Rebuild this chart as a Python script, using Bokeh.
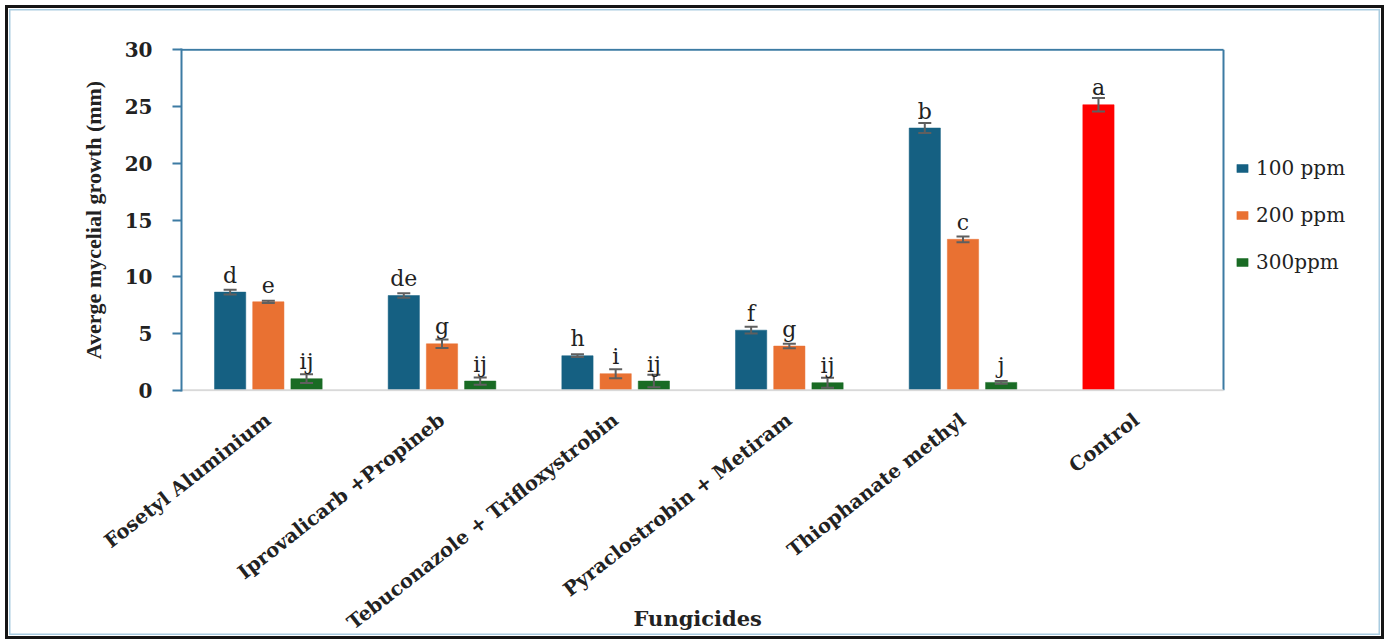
import math
from bokeh.plotting import figure
from bokeh.models import (ColumnDataSource, Range1d, Legend, LegendItem, FixedTicker)
from bokeh.transform import dodge
from bokeh.core.properties import value
from bokeh.embed import file_html
from bokeh.resources import INLINE

# ---------------- data ----------------
categories = ["Fosetyl Aluminium", "Iprovalicarb +Propineb", "Tebuconazole + Trifloxystrobin",
              "Pyraclostrobin + Metiram", "Thiophanate methyl", "Control"]

ppm100 = [8.65, 8.35, 3.05, 5.3, 23.1]
ppm100_err = [0.2, 0.2, 0.12, 0.3, 0.45]
ppm100_letters = ["d", "de", "h", "f", "b"]

ppm200 = [7.8, 4.1, 1.47, 3.9, 13.3]
ppm200_err = [0.1, 0.37, 0.4, 0.2, 0.25]
ppm200_letters = ["e", "g", "i", "g", "c"]

ppm300 = [1.03, 0.82, 0.82, 0.68, 0.7]
ppm300_err = [0.38, 0.32, 0.55, 0.44, 0.12]
ppm300_letters = ["ij", "ij", "ij", "ij", "j"]

control = [25.15]
control_err = [0.6]
control_letters = ["a"]

series_names = ["100 ppm", "200 ppm", "300ppm"]
yticks = [0, 5, 10, 15, 20, 25, 30]
x_title = "Fungicides"

# ---------------- style ----------------
C100, C200, C300, CCTRL = "#156082", "#E97132", "#196B24", "#FF0000"
AXBLUE = "#3C7BA3"
ERR = "#5F5F5F"
TXT = "#222222"
SERIF = "DejaVu Serif"

W_PX, H_PX = 1389, 644
LEFT, TOP, BOTTOM = 181, 48, 253
CAT_PX = (1223 - LEFT) / len(categories)          # pixel width of one category slot
ncat = len(categories)
x_end = (W_PX - LEFT) / CAT_PX                     # frame runs to the right edge (legend lives inside)
ymin, ymax = yticks[0], yticks[-1]

p = figure(width=W_PX, height=H_PX, x_range=Range1d(0, x_end), y_range=Range1d(ymin - 0.1, ymax + 0.1),
           output_backend="svg", toolbar_location=None,
           min_border_left=LEFT, min_border_right=0, min_border_top=TOP, min_border_bottom=BOTTOM)
p.background_fill_alpha = 0
p.border_fill_alpha = 0
p.styles = {
    "background-color": "white",
    "box-shadow": ("inset 0 0 0 5px white, inset 0 0 0 8px #151515, "
                   "inset 0 0 0 9px white, inset 0 0 0 10.5px #A9CCE0"),
}
p.xgrid.visible = False
p.ygrid.visible = False
p.outline_line_color = None

OFF, W = 0.22, 0.18
centers = [i + 0.5 for i in range(ncat)]

def make_src(xc, vals, errs, labs):
    return ColumnDataSource(dict(xc=xc, v=vals,
                                 lo=[a - b for a, b in zip(vals, errs)],
                                 hi=[a + b for a, b in zip(vals, errs)],
                                 lab=labs))

groups = [
    (make_src(centers[:5], ppm100, ppm100_err, ppm100_letters), -OFF, C100),
    (make_src(centers[:5], ppm200, ppm200_err, ppm200_letters), 0.0, C200),
    (make_src(centers[:5], ppm300, ppm300_err, ppm300_letters), OFF, C300),
    (make_src(centers[5:], control, control_err, control_letters), -OFF, CCTRL),
]

# plot-box lines (top & right in blue, baseline in light grey)
p.segment(x0=[0], y0=[ymax], x1=[ncat], y1=[ymax], line_color=AXBLUE, line_width=2)
p.segment(x0=[ncat], y0=[ymin], x1=[ncat], y1=[ymax], line_color=AXBLUE, line_width=2)

renderers = []
for src, off, col in groups:
    xx = dodge("xc", off)
    r = p.vbar(x=xx, top="v", bottom=ymin, width=W, source=src, fill_color=col, line_color=col, line_width=0.5)
    renderers.append(r)

p.segment(x0=[0], y0=[ymin], x1=[ncat], y1=[ymin], line_color="#D9D9D9", line_width=2)

for src, off, col in groups:
    xx = dodge("xc", off)
    p.segment(x0=xx, x1=xx, y0="lo", y1="hi", source=src, line_color=ERR, line_width=2)
    p.scatter(x=xx, y="hi", marker="dash", size=13, source=src, line_color=ERR, line_width=2)
    p.scatter(x=xx, y="lo", marker="dash", size=13, source=src, line_color=ERR, line_width=2)
    p.text(x=xx, y="v", text="lab", source=src, text_align="center", text_baseline="alphabetic",
           y_offset=-17, text_font=value(SERIF), text_font_size="22px", text_color=TXT)

# ---------------- axes ----------------
ya = p.yaxis[0]
ya.ticker = FixedTicker(ticks=yticks)
ya.axis_line_color = AXBLUE
ya.axis_line_width = 2
ya.major_tick_line_color = AXBLUE
ya.major_tick_line_width = 2
ya.major_tick_in = 0
ya.major_tick_out = 9
ya.minor_tick_line_color = None
ya.major_label_text_font = SERIF
ya.major_label_text_font_style = "bold"
ya.major_label_text_font_size = "20px"
ya.major_label_text_color = TXT
ya.major_label_standoff = 20
ya.axis_label = "Averge mycelial growth (mm)"
ya.axis_label_text_font = "Liberation Serif"
ya.axis_label_text_font_style = "bold"
ya.axis_label_text_font_size = "22px"
ya.axis_label_text_color = TXT
ya.axis_label_standoff = 16

xa = p.xaxis[0]
xa.ticker = FixedTicker(ticks=centers)
xa.major_label_overrides = {c: name for c, name in zip(centers, categories)}
xa.axis_line_color = None
xa.major_tick_line_color = None
xa.minor_tick_line_color = None
xa.major_tick_out = 0
xa.major_tick_in = 0
xa.major_label_orientation = math.radians(38)
xa.major_label_text_font = SERIF
xa.major_label_text_font_style = "bold"
xa.major_label_text_font_size = "19.5px"
xa.major_label_text_color = TXT
xa.major_label_standoff = 26
# the axis title is centred on the (widened) frame; trailing no-break spaces move it
# back to the centre of the plot box
xa.axis_label = x_title + "\u00a0" * 24
xa.axis_label_text_font = SERIF
xa.axis_label_text_font_style = "bold"
xa.axis_label_text_font_size = "21px"
xa.axis_label_text_color = TXT
xa.axis_label_standoff = -40

# ---------------- legend (inside the widened frame, right of the plot box) ----------------
legend = Legend(items=[LegendItem(label=n, renderers=[r]) for n, r in zip(series_names, renderers[:3])],
                location=(1054, 117), orientation="vertical", padding=0, margin=0, spacing=23,
                glyph_width=14, glyph_height=10, label_height=24, label_standoff=7,
                label_text_font=SERIF, label_text_font_size="20px", label_text_color=TXT,
                border_line_color=None, background_fill_alpha=0)
p.add_layout(legend, "center")

open("out.html", "w").write(file_html(p, INLINE))
